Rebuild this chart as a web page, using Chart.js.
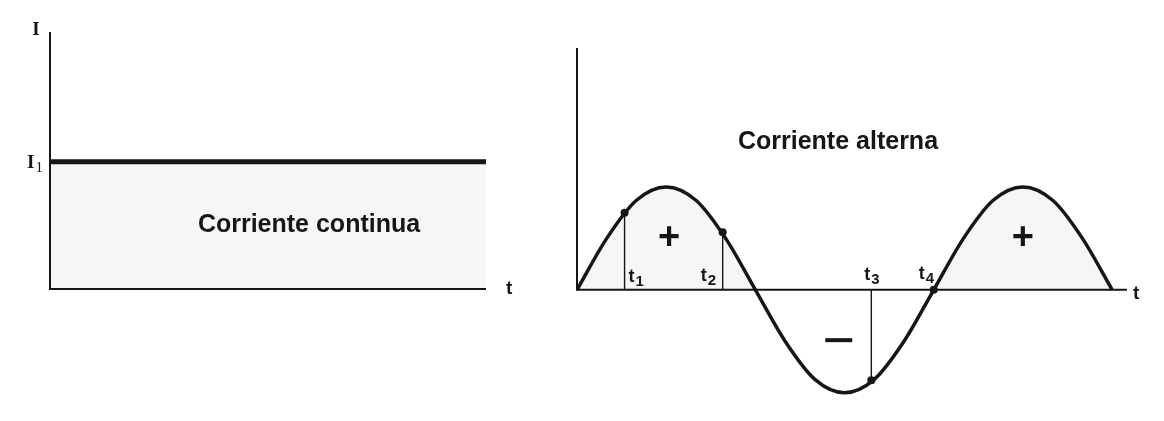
<!DOCTYPE html>
<html>
<head>
<meta charset="utf-8">
<script src="https://cdn.jsdelivr.net/npm/chart.js@4.4.1/dist/chart.umd.min.js"></script>
<style>
  html, body { margin: 0; padding: 0; background: #fff; }
  #wrap { position: relative; width: 1164px; height: 421px; overflow: hidden; }
  canvas { position: absolute; top: 0; }
  #dc { left: 0; }
  #ac { left: 560px; }
</style>
</head>
<body>
<div id="wrap">
  <canvas id="dc" width="560" height="421"></canvas>
  <canvas id="ac" width="604" height="421"></canvas>
</div>
<script>
// Corriente continua (left panel)
const dcTime = [0, 10];
const dcCurrent = [1, 1];
const dcTickLabel = ['I', '1'];

// Corriente alterna (right panel)
const acTime = [0, 1, 2, 3, 4, 5, 6, 7, 8, 9, 10, 11, 12, 13, 14, 15, 16, 17, 18];
const acCurrent = [0, 0.5, 0.87, 1, 0.87, 0.5, 0, -0.5, -0.87, -1, -0.87, -0.5, 0, 0.5, 0.87, 1, 0.87, 0.5, 0];

// marked instants t1..t4 and the current read at each
const markTimes = [1.6, 4.9, 9.9, 12];
const markCurrents = [0.75, 0.56, -0.88, 0];
const markLabels = ['1', '2', '3', '4'];

const ink = '#161616';
const shade = 'rgba(0, 0, 0, 0.035)';

function toPoints(xs, ys) {
    return xs.map((x, i) => ({ x: x, y: ys[i] }));
}

// "t" with a subscript, drawn from its left edge
function subLabel(ctx, x, y, main, sub, font, subFont, drop) {
    ctx.font = font;
    ctx.textAlign = 'left';
    ctx.textBaseline = 'alphabetic';
    ctx.fillText(main, x, y);
    const w = ctx.measureText(main).width;
    ctx.font = subFont;
    ctx.fillText(sub, x + w + 1, y + drop);
}

// axes: vertical from top to the zero line, horizontal along zero
const axesPlugin = {
    id: 'axes',
    beforeDatasetsDraw(chart) {
        const { ctx, scales: { x, y } } = chart;
        const x0 = x.getPixelForValue(x.min);
        const x1 = x.getPixelForValue(x.max);
        const yTop = y.getPixelForValue(y.max);
        const y0 = y.getPixelForValue(0);
        ctx.save();
        ctx.strokeStyle = ink;
        ctx.lineWidth = 2;
        ctx.beginPath();
        ctx.moveTo(x0, yTop);
        ctx.lineTo(x0, y0);
        ctx.lineTo(x1, y0);
        ctx.stroke();
        ctx.restore();
    }
};

const baseOptions = (padding, xMax, yMin, yMax) => ({
    responsive: false,
    animation: false,
    devicePixelRatio: 1,
    layout: { padding: padding },
    plugins: { legend: { display: false }, tooltip: { enabled: false } },
    scales: {
        x: { type: 'linear', min: 0, max: xMax, display: false },
        y: { type: 'linear', min: yMin, max: yMax, display: false }
    }
});

// Left chart
const dcLabels = {
    id: 'dcLabels',
    afterDraw(chart) {
        const { ctx, scales: { x, y } } = chart;
        const ax = x.getPixelForValue(0);
        ctx.save();
        ctx.fillStyle = ink;
        ctx.font = 'bold 19px "Liberation Serif"';
        ctx.textAlign = 'center';
        ctx.fillText('I', ax - 14, y.getPixelForValue(y.max) + 3);
        subLabel(ctx, ax - 23, y.getPixelForValue(dcCurrent[0]) + 6, dcTickLabel[0], dcTickLabel[1],
            'bold 19px "Liberation Serif"', '15px "Liberation Serif"', 4);
        ctx.font = 'bold 19px "Liberation Sans"';
        ctx.textAlign = 'left';
        ctx.fillText('t', x.getPixelForValue(x.max) + 20, y.getPixelForValue(0) + 5);
        ctx.font = 'bold 25px "Liberation Sans"';
        ctx.textAlign = 'center';
        ctx.fillText('Corriente continua', 309, 232);
        ctx.restore();
    }
};

new Chart(document.getElementById('dc'), {
    type: 'scatter',
    data: {
        datasets: [{
            data: toPoints(dcTime, dcCurrent),
            showLine: true,
            borderColor: ink,
            borderWidth: 5,
            pointRadius: 0,
            fill: 'origin',
            backgroundColor: shade
        }]
    },
    options: baseOptions({ left: 50, top: 32, right: 74, bottom: 132 }, 10, 0, 2.02),
    plugins: [axesPlugin, dcLabels]
});

// Right chart
const acLabels = {
    id: 'acLabels',
    afterDraw(chart) {
        const { ctx, scales: { x, y } } = chart;
        const y0 = y.getPixelForValue(0);
        ctx.save();
        ctx.fillStyle = ink;
        const font = 'bold 18px "Liberation Sans"';
        const subFont = 'bold 15px "Liberation Sans"';
        // label offsets from each marked instant
        const dx = [4, -22, -7, -15];
        const dy = [-8, -9, -10, -11];
        markTimes.forEach((t, i) => {
            subLabel(ctx, x.getPixelForValue(t) + dx[i], y0 + dy[i], 't', markLabels[i], font, subFont, 4);
        });
        ctx.font = 'bold 19px "Liberation Sans"';
        ctx.textAlign = 'left';
        ctx.fillText('t', x.getPixelForValue(x.max) + 6, y0 + 9);
        ctx.font = 'bold 38px "Liberation Sans"';
        ctx.textAlign = 'center';
        ctx.fillText('+', x.getPixelForValue(3.1), y.getPixelForValue(0.4));
        ctx.fillText('+', x.getPixelForValue(15), y.getPixelForValue(0.4));
        ctx.fillRect(x.getPixelForValue(8.35), y.getPixelForValue(-0.47), 27, 4);
        ctx.font = 'bold 25px "Liberation Sans"';
        ctx.fillText('Corriente alterna', 278, 149);
        ctx.restore();
    }
};

const dropLines = markTimes.slice(0, 3).map((t, i) => ({
    data: [{ x: t, y: 0 }, { x: t, y: markCurrents[i] }],
    showLine: true,
    borderColor: ink,
    borderWidth: 1.4,
    pointRadius: 0,
    fill: false
}));

new Chart(document.getElementById('ac'), {
    type: 'scatter',
    data: {
        datasets: [
            {
                data: toPoints(acTime, acCurrent),
                showLine: true,
                borderColor: ink,
                borderWidth: 3.5,
                cubicInterpolationMode: 'monotone',
                pointRadius: 0,
                fill: { target: 'origin', above: shade, below: 'rgba(0,0,0,0)' }
            },
            ...dropLines,
            {
                data: toPoints(markTimes, markCurrents),
                showLine: false,
                pointRadius: 4,
                pointBackgroundColor: ink,
                pointBorderWidth: 0
            }
        ]
    },
    options: baseOptions({ left: 17, top: 48, right: 37, bottom: 18 }, 18.5, -1.1, 2.35),
    plugins: [axesPlugin, acLabels]
});
</script>
</body>
</html>
